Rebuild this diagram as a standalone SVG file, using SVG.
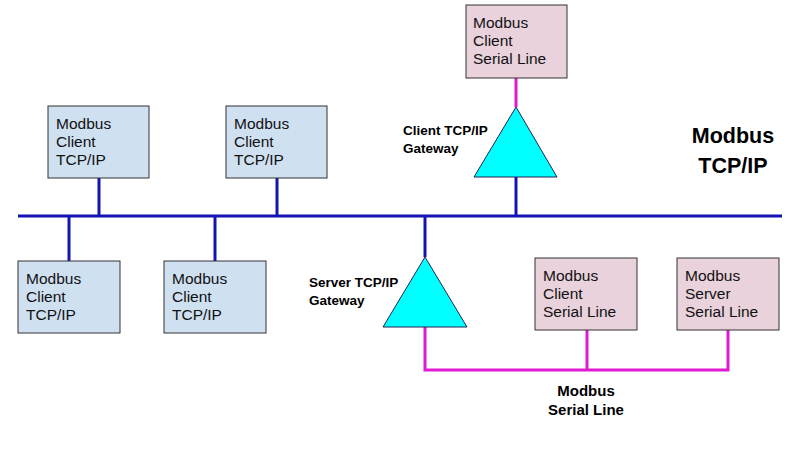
<svg xmlns="http://www.w3.org/2000/svg" width="800" height="450" viewBox="0 0 800 450">
<style>
.tcp{fill:#cfe0f1;stroke:#333;stroke-width:1}
.ser{fill:#e9d2dc;stroke:#333;stroke-width:1}
.gw{fill:#00ffff;stroke:#225;stroke-width:1}
.t{font-family:"Liberation Sans",Arial,sans-serif;font-size:15.5px;fill:#111}
.b{font-family:"Liberation Sans",Arial,sans-serif;font-weight:bold;fill:#000}
.bus{stroke:#1414b4;stroke-width:3;fill:none}
.sl{stroke:#e01ad2;stroke-width:3;fill:none}
</style>
<rect width="800" height="450" fill="#fff"/>
<g id="connectors">
<line class="bus" x1="18" y1="216" x2="782" y2="216"/>
<line class="bus" x1="99" y1="178" x2="99" y2="216"/>
<line class="bus" x1="277" y1="178" x2="277" y2="216"/>
<line class="bus" x1="69" y1="216" x2="69" y2="261"/>
<line class="bus" x1="215" y1="216" x2="215" y2="261"/>
<line class="bus" x1="516" y1="177" x2="516" y2="216"/>
<line class="bus" x1="425" y1="216" x2="425" y2="257"/>
<line class="sl" x1="516" y1="78" x2="516" y2="107"/>
<polyline class="sl" points="425,327 425,370 728,370 728,330"/>
<line class="sl" x1="587" y1="330" x2="587" y2="370"/>
</g>
<g id="tcp1"><rect class="tcp" x="48" y="106" width="101" height="72"/><text class="t" x="56" y="129">Modbus</text><text class="t" x="56" y="147">Client</text><text class="t" x="56" y="165">TCP/IP</text></g>
<g id="tcp2"><rect class="tcp" x="226" y="106" width="101" height="72"/><text class="t" x="234" y="129">Modbus</text><text class="t" x="234" y="147">Client</text><text class="t" x="234" y="165">TCP/IP</text></g>
<g id="tcp3"><rect class="tcp" x="18" y="261" width="102" height="72"/><text class="t" x="26" y="284">Modbus</text><text class="t" x="26" y="302">Client</text><text class="t" x="26" y="320">TCP/IP</text></g>
<g id="tcp4"><rect class="tcp" x="164" y="261" width="102" height="72"/><text class="t" x="172" y="284">Modbus</text><text class="t" x="172" y="302">Client</text><text class="t" x="172" y="320">TCP/IP</text></g>
<g id="serTop"><rect class="ser" x="466" y="5" width="101" height="73"/><text class="t" x="473" y="28">Modbus</text><text class="t" x="473" y="46">Client</text><text class="t" x="473" y="64">Serial Line</text></g>
<g id="ser1"><rect class="ser" x="535" y="258" width="102" height="72"/><text class="t" x="543" y="281">Modbus</text><text class="t" x="543" y="299">Client</text><text class="t" x="543" y="317">Serial Line</text></g>
<g id="ser2"><rect class="ser" x="677" y="258" width="102" height="72"/><text class="t" x="685" y="281">Modbus</text><text class="t" x="685" y="299">Server</text><text class="t" x="685" y="317">Serial Line</text></g>
<g id="gwClient"><polygon class="gw" points="516,107 557,177 474,177"/><text class="b" font-size="13.5" x="403" y="135">Client TCP/IP</text><text class="b" font-size="13.5" x="403" y="153">Gateway</text></g>
<g id="gwServer"><polygon class="gw" points="425,257 467,327 383,327"/><text class="b" font-size="13.5" x="309" y="287">Server TCP/IP</text><text class="b" font-size="13.5" x="309" y="305">Gateway</text></g>
<g id="labelTCP"><text class="b" font-size="21.5" x="733" y="143" text-anchor="middle">Modbus</text><text class="b" font-size="21.5" x="733" y="173" text-anchor="middle">TCP/IP</text></g>
<g id="labelSerial"><text class="b" font-size="15" x="586" y="396" text-anchor="middle">Modbus</text><text class="b" font-size="15" x="586" y="415" text-anchor="middle">Serial Line</text></g>
</svg>
